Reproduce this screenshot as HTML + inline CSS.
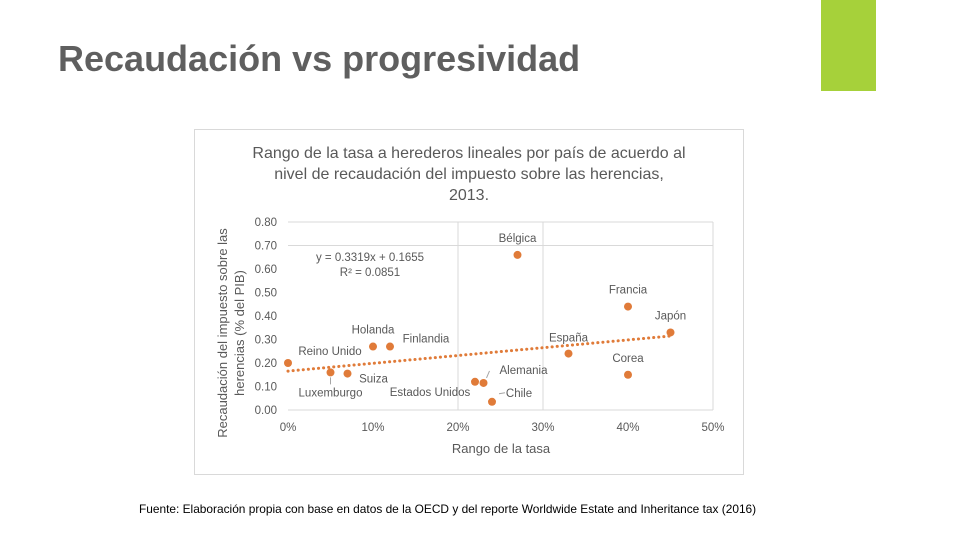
<!DOCTYPE html>
<html><head><meta charset="utf-8"><style>
body{margin:0;width:960px;height:540px;background:#fff;position:relative;overflow:hidden;font-family:"Liberation Sans",sans-serif}
#title{position:absolute;left:58px;top:38px;font-size:36px;font-weight:bold;color:#5f5f5f;white-space:nowrap}
#green{position:absolute;left:821px;top:0;width:55px;height:91px;background:#a6d13a}
#foot{position:absolute;left:139px;top:502px;font-size:11.9px;color:#000;white-space:nowrap}
svg{position:absolute;left:0;top:0}
</style></head><body>
<div id="title">Recaudación vs progresividad</div>
<div id="green"></div>
<div id="foot">Fuente: Elaboración propia con base en datos de la OECD y del reporte Worldwide Estate and Inheritance tax (2016)</div>
<svg id="chart" width="960" height="540"></svg>
<script>
const countries=["Bélgica","Francia","Japón","España","Corea","Holanda","Finlandia","Reino Unido","Luxemburgo","Suiza","Estados Unidos","Alemania","Chile"];
const rates=[0.27,0.40,0.45,0.33,0.40,0.10,0.12,0.00,0.05,0.07,0.22,0.23,0.24];
const revenue=[0.66,0.44,0.33,0.24,0.15,0.27,0.27,0.20,0.16,0.155,0.12,0.115,0.035];
const xTicks=[0,0.1,0.2,0.3,0.4,0.5];
const yTicks=[0,0.1,0.2,0.3,0.4,0.5,0.6,0.7,0.8];
const trendSlope=0.3319, trendIntercept=0.1655;
const labelOffsets={"Bélgica":[0,-17],"Francia":[0,-17],"Japón":[0,-17],"España":[0,-16],"Corea":[0,-17],"Holanda":[0,-17],"Finlandia":[36,-8],"Reino Unido":[42,-12],"Luxemburgo":[0,20],"Suiza":[26,5],"Estados Unidos":[-45,10],"Alemania":[40,-13],"Chile":[27,-9]};
const leaders={"Luxemburgo":[[0,5],[0,12]],"Alemania":[[3,-5],[6,-12]],"Chile":[[7,-8],[13,-9]]};
const svg=document.getElementById('chart');const NS='http://www.w3.org/2000/svg';
const X0=288,X1=713,Y0=410,Y1=222;
const xs=v=>X0+(v-0)/(0.5)*(X1-X0);
const ys=v=>Y0-(v/0.8)*(Y0-Y1);
function mk(t,a,txt){const e=document.createElementNS(NS,t);for(const k in a)e.setAttribute(k,a[k]);if(txt!==undefined)e.textContent=txt;svg.appendChild(e);return e;}
const F='"Liberation Sans","DejaVu Sans",sans-serif';
let e=mk('rect',{x:194.5,y:129.5,width:549,height:345,fill:'#fff',stroke:'#d9d9d9'});

const tl=["Rango de la tasa a herederos lineales por país de acuerdo al","nivel de recaudación del impuesto sobre las herencias,","2013."];
tl.forEach((t,i)=>{const el=mk('text',{x:469,y:158+i*21,'text-anchor':'middle','font-size':16,fill:'#595959','font-family':F},t);
});
[0.2,0.3,0.5].forEach(v=>{const l=mk('line',{x1:xs(v),x2:xs(v),y1:Y0,y2:Y1,stroke:'#d9d9d9'});});
[0.7,0.8].forEach(v=>{const l=mk('line',{x1:X0,x2:X1,y1:ys(v),y2:ys(v),stroke:'#d9d9d9'});});
e=mk('line',{x1:X0,x2:X1,y1:Y0,y2:Y0,stroke:'#d9d9d9'});
xTicks.forEach(v=>{const t=mk('text',{x:xs(v),y:431,'text-anchor':'middle','font-size':11.5,fill:'#595959','font-family':F},Math.round(v*100)+'%');});
yTicks.forEach(v=>{const t=mk('text',{x:277,y:ys(v)+4,'text-anchor':'end','font-size':11.5,fill:'#595959','font-family':F},v.toFixed(2));});
e=mk('text',{x:501,y:453,'text-anchor':'middle','font-size':13,fill:'#595959','font-family':F},'Rango de la tasa');
e=mk('text',{transform:'translate(227,333) rotate(-90)','text-anchor':'middle','font-size':13,fill:'#595959','font-family':F},'Recaudación del impuesto sobre las');
e=mk('text',{transform:'translate(244,333) rotate(-90)','text-anchor':'middle','font-size':13,fill:'#595959','font-family':F},'herencias  (% del PIB)');
e=mk('line',{x1:xs(0),y1:ys(trendIntercept),x2:xs(0.45),y2:ys(trendIntercept+trendSlope*0.45),stroke:'#e07b39','stroke-width':3,'stroke-dasharray':'0.1 5','stroke-linecap':'round'});

e=mk('text',{x:370,y:261,'text-anchor':'middle','font-size':11.5,fill:'#595959','font-family':F},'y = 0.3319x + 0.1655');
e=mk('text',{x:370,y:276,'text-anchor':'middle','font-size':11.5,fill:'#595959','font-family':F},'R² = 0.0851');
countries.forEach((c,i)=>{const cx=xs(rates[i]),cy=ys(revenue[i]);
const p=mk('circle',{cx:cx,cy:cy,r:4,fill:'#e07b39'});
if(leaders[c]){const L=leaders[c];const ln=mk('line',{x1:cx+L[0][0],y1:cy+L[0][1],x2:cx+L[1][0],y2:cy+L[1][1],stroke:'#a6a6a6'});}
const o=labelOffsets[c];const t=mk('text',{x:cx+o[0],y:cy+o[1]+4,'text-anchor':'middle','font-size':11.5,fill:'#595959','font-family':F},c);
});
</script>
</body></html>
